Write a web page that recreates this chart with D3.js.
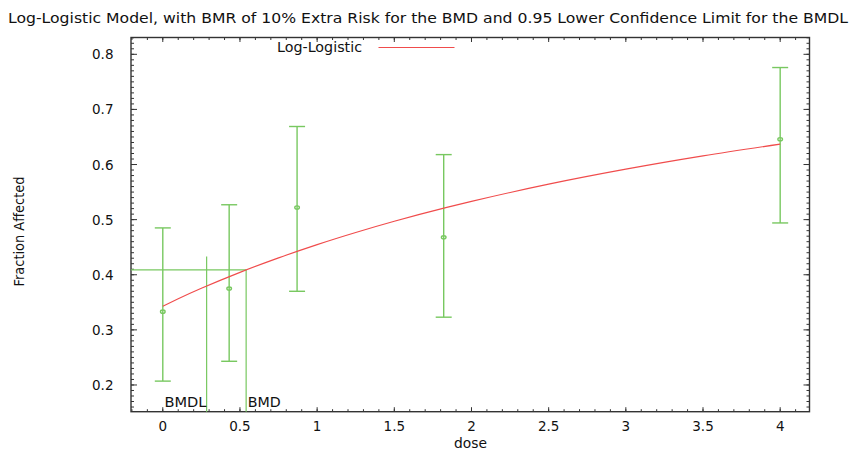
<!DOCTYPE html>
<html><head><meta charset="utf-8">
<script src="https://cdn.jsdelivr.net/npm/d3@7"></script>
<style>body{margin:0;background:#fff}svg{display:block}text{font-family:"DejaVu Sans","Liberation Sans",Arial,sans-serif;fill:#111}</style>
</head><body><svg id="c" width="854" height="452"></svg>
<script>
const doses = [0, 0.43, 0.87, 1.82, 4.0];
const means = [0.333, 0.375, 0.522, 0.468, 0.646];
const lowerCL = [0.207, 0.243, 0.370, 0.323, 0.494];
const upperCL = [0.485, 0.527, 0.669, 0.618, 0.776];
const curveDose = [0, 0.05, 0.1, 0.25, 0.5, 0.75, 1, 1.25, 1.5, 1.84, 2, 2.5, 3, 3.5, 4];
const curveResp = [0.343, 0.3498, 0.3564, 0.3753, 0.4043, 0.4306, 0.4547, 0.4767, 0.497, 0.5222, 0.5331, 0.5644, 0.5916, 0.6157, 0.637];
const bmd = 0.54, bmdl = 0.284, bmrResp = 0.409, bmdlTop = 0.433;
const xTicks = [0, 0.5, 1, 1.5, 2, 2.5, 3, 3.5, 4];
const yTicks = [0.2, 0.3, 0.4, 0.5, 0.6, 0.7, 0.8];
const xDomain = [-0.206, 4.19], yDomain = [0.1515, 0.8305];

const svg = d3.select("#c");
const L = 131, R = 809.5, T = 37.5, B = 411.7;
const x = d3.scaleLinear().domain(xDomain).range([L, R]);
const y = d3.scaleLinear().domain(yDomain).range([B, T]);
const axisCol = "#333", green = "#78c860", red = "#f04c4c";

function txt(sel, s, w) {
  sel.text(s);
  if (w) sel.attr("textLength", w).attr("lengthAdjust", "spacingAndGlyphs");
  return sel;
}

// title
txt(svg.append("text").attr("x", 8).attr("y", 22.5).style("font-size", "13.5px"),
  "Log-Logistic Model, with BMR of 10% Extra Risk for the BMD and 0.95 Lower Confidence Limit for the BMDL", 840);

// axes with inward ticks
const xMinor = d3.range(-0.2, 4.2001, 0.1).map(v => +v.toFixed(2)).filter(v => v >= xDomain[0] && v <= xDomain[1]);
const yMinor = d3.range(0.16, 0.8301, 0.01).map(v => +v.toFixed(3));
const g = svg.append("g");
function tickLines(vals, len, side) {
  vals.forEach(v => {
    if (side === "b") g.append("line").attr("x1", x(v)).attr("x2", x(v)).attr("y1", B).attr("y2", B - len);
    if (side === "t") g.append("line").attr("x1", x(v)).attr("x2", x(v)).attr("y1", T).attr("y2", T + len);
    if (side === "l") g.append("line").attr("y1", y(v)).attr("y2", y(v)).attr("x1", L).attr("x2", L + len);
    if (side === "r") g.append("line").attr("y1", y(v)).attr("y2", y(v)).attr("x1", R).attr("x2", R - len);
  });
}
tickLines(xMinor, 2.5, "b"); tickLines(xMinor, 2.5, "t");
tickLines(xTicks, 4.5, "b"); tickLines(xTicks, 4.5, "t");
tickLines(yMinor, 3, "l"); tickLines(yMinor, 3, "r");
tickLines(yTicks, 6, "l"); tickLines(yTicks, 6, "r");
g.selectAll("line").attr("stroke", axisCol).attr("stroke-width", 1);
svg.append("rect").attr("x", L).attr("y", T).attr("width", R - L).attr("height", B - T)
  .attr("fill", "none").attr("stroke", axisCol).attr("stroke-width", 1.4);

// tick labels
svg.append("g").selectAll("text").data(xTicks).join("text")
  .attr("x", d => x(d)).attr("y", B + 19).attr("text-anchor", "middle").style("font-size", "13.5px")
  .text(d => d3.format("")(d));
svg.append("g").selectAll("text").data(yTicks).join("text")
  .attr("x", 113.5).attr("y", d => y(d) + 5).attr("text-anchor", "end").style("font-size", "13.5px")
  .text(d => d.toFixed(1));

// axis titles
txt(svg.append("text").attr("x", 454).attr("y", 448).style("font-size", "13.5px"), "dose", 33);
txt(svg.append("text").attr("transform", "translate(23.5,286.5) rotate(-90)")
  .style("font-size", "13.5px"), "Fraction Affected", 110);

// BMD / BMDL lines
const gl = svg.append("g").attr("stroke", green).attr("stroke-width", 1.2);
gl.append("line").attr("x1", x(xDomain[0])).attr("x2", x(bmd)).attr("y1", y(bmrResp)).attr("y2", y(bmrResp));
gl.append("line").attr("x1", x(bmd)).attr("x2", x(bmd)).attr("y1", y(yDomain[0])).attr("y2", y(bmrResp));
gl.append("line").attr("x1", x(bmdl)).attr("x2", x(bmdl)).attr("y1", y(yDomain[0])).attr("y2", y(bmdlTop));
txt(svg.append("text").attr("x", 164.5).attr("y", 407).style("font-size", "13.5px"), "BMDL", 42);
txt(svg.append("text").attr("x", 247.8).attr("y", 407).style("font-size", "13.5px"), "BMD", 33);

// error bars
const eb = svg.append("g").attr("stroke", green).attr("stroke-width", 1.4).attr("fill", "none");
doses.forEach((d, i) => {
  eb.append("line").attr("x1", x(d)).attr("x2", x(d)).attr("y1", y(lowerCL[i])).attr("y2", y(upperCL[i]));
  eb.append("line").attr("x1", x(d) - 8).attr("x2", x(d) + 8).attr("y1", y(lowerCL[i])).attr("y2", y(lowerCL[i]));
  eb.append("line").attr("x1", x(d) - 8).attr("x2", x(d) + 8).attr("y1", y(upperCL[i])).attr("y2", y(upperCL[i]));
  eb.append("ellipse").attr("cx", x(d)).attr("cy", y(means[i])).attr("rx", 2.3).attr("ry", 1.6);
});

// model curve
const line = d3.line().x((d, i) => x(curveDose[i])).y(d => y(d)).curve(d3.curveMonotoneX);
svg.append("path").attr("d", line(curveResp)).attr("fill", "none").attr("stroke", red).attr("stroke-width", 1.1);

// legend
txt(svg.append("text").attr("x", 277).attr("y", 51.7).style("font-size", "13.5px"), "Log-Logistic", 85);
svg.append("line").attr("x1", 378.5).attr("x2", 454.5).attr("y1", 47.5).attr("y2", 47.5).attr("stroke", red).attr("stroke-width", 1.1);
</script></body></html>
